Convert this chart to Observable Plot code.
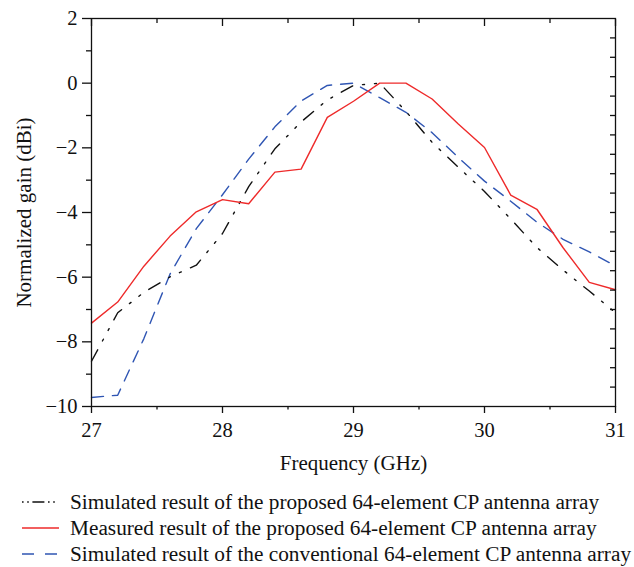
<!DOCTYPE html>
<html>
<head>
<meta charset="utf-8">
<script src="https://cdn.jsdelivr.net/npm/d3@7"></script>
<script src="https://cdn.jsdelivr.net/npm/@observablehq/plot@0.6"></script>
<style>
  html, body { margin: 0; padding: 0; background: #fff; }
  #legend { font-family: "Liberation Serif", "Times New Roman", serif; font-size: 21.3px; color: #111; padding-top: 9px; }
  .row { display: flex; align-items: center; height: 26px; white-space: nowrap; }
  .row svg { flex: none; }
</style>
</head>
<body>
<div id="chart"></div>
<div id="legend"></div>
<script>
// ---- data ----
const freq = [27.0, 27.2, 27.4, 27.6, 27.8, 28.0, 28.2, 28.4, 28.6, 28.8, 29.0,
              29.2, 29.4, 29.6, 29.8, 30.0, 30.2, 30.4, 30.6, 30.8, 31.0];
const simProposed = [-8.6, -7.1, -6.47, -5.99, -5.63, -4.65, -3.2, -2.03, -1.2, -0.52, -0.07,
                     0.0, -0.87, -1.83, -2.6, -3.35, -4.2, -5.08, -5.78, -6.43, -7.1];
const measured = [-7.42, -6.77, -5.66, -4.73, -3.98, -3.6, -3.73, -2.75, -2.66, -1.06, -0.56,
                  0.0, 0.0, -0.49, -1.26, -1.99, -3.46, -3.9, -5.09, -6.16, -6.39];
const simConventional = [-9.72, -9.65, -7.9, -5.9, -4.5, -3.45, -2.35, -1.35, -0.55, -0.07, 0.0,
                         -0.45, -0.9, -1.53, -2.3, -3.03, -3.65, -4.3, -4.83, -5.22, -5.65];

const seriesNames = [
  "Simulated result of the proposed 64-element CP antenna array",
  "Measured result of the proposed 64-element CP antenna array",
  "Simulated result of the conventional 64-element CP antenna array"
];

const xMajorTicks = [27, 28, 29, 30, 31];
const xMinorTicks = [27.5, 28.5, 29.5, 30.5];
const yMajorTicks = [-10, -8, -6, -4, -2, 0, 2];
const yMinorTicks = [-9, -7, -5, -3, -1, 1];
const yRightTicks = [1.4, 0.8, 0.2, -0.4, -1, -1.6, -2.2, -2.8, -3.4, -4, -4.6, -5.2, -5.8, -6.4, -7, -7.6, -8.2, -8.8, -9.4];

const xLabel = "Frequency (GHz)";
const yLabel = "Normalized gain (dBi)";

// ---- styles ----
const styles = [
  {color: "#111111", dash: "13,10,2,10,2,10", width: 1.4},
  {color: "#ee2a2a", dash: null, width: 1.4},
  {color: "#2f55b3", dash: "12,9", width: 1.4}
];

const seriesValues = [simProposed, measured, simConventional];
const tables = seriesValues.map(vals => freq.map((f, i) => ({x: f, y: vals[i]})));

const minus = d => (d < 0 ? "\u2212" + Math.abs(d) : String(d));
const blank = () => "";
const sw = 1.3;

const chart = Plot.plot({
  width: 634,
  height: 480,
  marginLeft: 91,
  marginRight: 19,
  marginTop: 18,
  marginBottom: 74,
  x: {domain: [27, 31]},
  y: {domain: [-10, 2]},
  style: {fontFamily: "Liberation Serif, Times New Roman, serif", fontSize: "20px", color: "#111", background: "#fff"},
  marks: [
    Plot.lineY(tables[2], {x: "x", y: "y", stroke: styles[2].color, strokeWidth: styles[2].width, strokeDasharray: styles[2].dash}),
    Plot.lineY(tables[0], {x: "x", y: "y", stroke: styles[0].color, strokeWidth: styles[0].width, strokeDasharray: styles[0].dash}),
    Plot.lineY(tables[1], {x: "x", y: "y", stroke: styles[1].color, strokeWidth: styles[1].width}),
    Plot.frame({stroke: "#111", strokeWidth: sw}),
    // bottom axis
    Plot.axisX(xMajorTicks, {anchor: "bottom", tickSize: 7, tickPadding: 9, tickFormat: d => String(d), label: null, strokeWidth: sw, fontSize: 20.5}),
    Plot.axisX(xMinorTicks, {anchor: "bottom", tickSize: 3.5, tickFormat: blank, label: null, strokeWidth: sw}),
    // top axis (inward)
    Plot.axisX(xMajorTicks, {anchor: "top", tickSize: -7, tickFormat: blank, label: null, strokeWidth: sw}),
    Plot.axisX(xMinorTicks, {anchor: "top", tickSize: -4, tickFormat: blank, label: null, strokeWidth: sw}),
    // left axis
    Plot.axisY(yMajorTicks, {anchor: "left", tickSize: 9, tickPadding: 5, tickFormat: minus, label: null, strokeWidth: sw, fontSize: 20.5}),
    Plot.axisY(yMinorTicks, {anchor: "left", tickSize: 5, tickFormat: blank, label: null, strokeWidth: sw}),
    // right axis (inward)
    Plot.axisY(yRightTicks, {anchor: "right", tickSize: -6, tickFormat: blank, label: null, strokeWidth: sw}),
    // axis titles
    Plot.text([xLabel], {frameAnchor: "bottom", dy: 57, text: d => d, fontSize: 21, lineAnchor: "middle", textAnchor: "middle"}),
    Plot.text([yLabel], {frameAnchor: "left", dx: -67, rotate: -90, text: d => d, fontSize: 21, lineAnchor: "middle", textAnchor: "middle"})
  ]
});
document.getElementById("chart").appendChild(chart);

// ---- legend ----
const legend = document.getElementById("legend");
const legendDash = ["1.6,3.6,1.6,3.6,12,3.6", null, "12,11"];
seriesNames.forEach((name, i) => {
  const row = document.createElement("div");
  row.className = "row";
  const ns = "http://www.w3.org/2000/svg";
  const svg = document.createElementNS(ns, "svg");
  svg.setAttribute("width", 70);
  svg.setAttribute("height", 26);
  const line = document.createElementNS(ns, "line");
  line.setAttribute("x1", 22);
  line.setAttribute("x2", i === 0 ? 56 : 59);
  line.setAttribute("y1", 13);
  line.setAttribute("y2", 13);
  line.setAttribute("stroke", styles[i].color);
  line.setAttribute("stroke-width", 1.4);
  if (legendDash[i]) line.setAttribute("stroke-dasharray", legendDash[i]);
  svg.appendChild(line);
  const span = document.createElement("span");
  span.textContent = name;
  row.appendChild(svg);
  row.appendChild(span);
  legend.appendChild(row);
});
</script>
</body>
</html>
